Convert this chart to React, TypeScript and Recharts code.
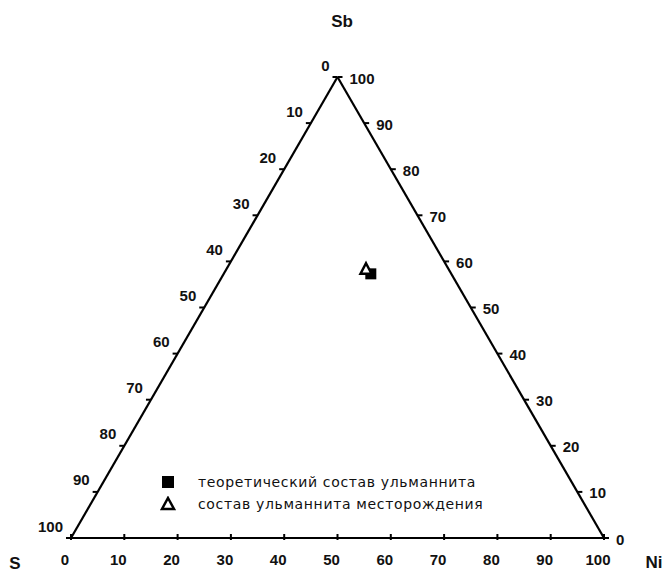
import { Legend, ReferenceLine, Scatter, ScatterChart, XAxis, YAxis } from 'recharts';

// ternary: Ni along the bottom, Sb at the apex, S at the lower left (wt. %)
const H = Math.sqrt(3) / 2;

const tickValues = [0, 10, 20, 30, 40, 50, 60, 70, 80, 90, 100];
const axisTitles = { top: 'Sb', left: 'S', right: 'Ni' };

// theoretical NiSbS and the measured deposit composition
const theoretical = [{ ni: 27.6, sb: 57.3, s: 15.1 }];
const deposit = [{ ni: 26.2, sb: 58.3, s: 15.5 }];

const legendItems = [
  { name: 'теоретический состав ульманнита', marker: 'square' },
  { name: 'состав ульманнита месторождения', marker: 'triangle' },
];

const toXY = (ni: number, sb: number) => ({ x: ni + sb / 2, y: sb * H });

const bottomTicks = tickValues.map((v) => ({ ...toXY(v, 0), label: String(v) }));
// left edge: S from 0 at the apex to 100 at the S corner
const leftTicks = tickValues.map((v) => ({ ...toXY(0, 100 - v), label: String(v) }));
// right edge: Sb from 0 at the Ni corner to 100 at the apex
const rightTicks = tickValues.map((v) => ({ ...toXY(100 - v, v), label: String(v) }));

const theoreticalPts = theoretical.map((d) => toXY(d.ni, d.sb));
const depositPts = deposit.map((d) => toXY(d.ni, d.sb));

const labelStyle = { fontSize: 15, fontWeight: 700, fill: '#111' };

const BottomTick = (props: any) => {
  const { cx, cy, payload } = props;
  return (
    <g>
      <line x1={cx} y1={cy - 4} x2={cx} y2={cy + 2} stroke="#000" strokeWidth={2} />
      <text x={cx - 6} y={cy + 21} textAnchor="middle" dominantBaseline="central" {...labelStyle}>
        {payload.label}
      </text>
    </g>
  );
};

const LeftTick = (props: any) => {
  const { cx, cy, payload } = props;
  return (
    <g>
      <line x1={cx - 5} y1={cy} x2={cx} y2={cy} stroke="#000" strokeWidth={2} />
      <text x={cx - 8} y={cy - 12} textAnchor="end" dominantBaseline="central" {...labelStyle}>
        {payload.label}
      </text>
    </g>
  );
};

const RightTick = (props: any) => {
  const { cx, cy, payload } = props;
  return (
    <g>
      <line x1={cx} y1={cy} x2={cx + 5} y2={cy} stroke="#000" strokeWidth={2} />
      <text x={cx + 12} y={cy + 1} textAnchor="start" dominantBaseline="central" {...labelStyle}>
        {payload.label}
      </text>
    </g>
  );
};

const SquareMark = (props: any) => {
  const { cx, cy } = props;
  return <rect x={cx - 5.5} y={cy - 5.5} width={11} height={11} fill="#000" />;
};

const TriangleMark = (props: any) => {
  const { cx, cy } = props;
  return (
    <polygon
      points={`${cx},${cy - 6} ${cx + 5.5},${cy + 4.5} ${cx - 5.5},${cy + 4.5}`}
      fill="#fff"
      stroke="#000"
      strokeWidth={2.5}
      strokeLinejoin="miter"
    />
  );
};

const LegendBox = () => (
  <div style={{ fontFamily: '"DejaVu Sans", sans-serif', fontSize: 14, color: '#111' }}>
    {legendItems.map((item) => (
      <div key={item.name} style={{ display: 'flex', alignItems: 'center', height: 22 }}>
        <svg width={16} height={16} style={{ marginRight: 22 }}>
          {item.marker === 'square' ? (
            <rect x={2} y={2} width={12} height={12} fill="#000" />
          ) : (
            <polygon points="8,2 14,13 2,13" fill="#fff" stroke="#000" strokeWidth={2.5} />
          )}
        </svg>
        <span style={{ letterSpacing: 0.65, whiteSpace: 'nowrap' }}>{item.name}</span>
      </div>
    ))}
  </div>
);

const TitleText = ({ x, y, text }: { x: number; y: number; text: string }) => (
  <div
    style={{
      position: 'absolute',
      left: x,
      top: y,
      transform: 'translate(-50%, -50%)',
      fontFamily: '"Liberation Sans", Arial, sans-serif',
      fontWeight: 700,
      fontSize: 17,
      color: '#111',
    }}
  >
    {text}
  </div>
);

export default function App() {
  return (
    <div style={{ position: 'absolute', left: 0, top: 0, width: 668, height: 572, background: '#fff' }}>
      <ScatterChart
        width={668}
        height={572}
        margin={{ top: 77, right: 64, bottom: 34, left: 71 }}
        style={{ fontFamily: '"Liberation Sans", Arial, sans-serif' }}
      >
        <XAxis type="number" dataKey="x" domain={[0, 100]} hide />
        <YAxis type="number" dataKey="y" domain={[0, 100 * H]} hide />
        <ReferenceLine segment={[{ x: 0, y: 0 }, { x: 100, y: 0 }]} stroke="#000" strokeWidth={2.2} />
        <ReferenceLine segment={[{ x: 0, y: 0 }, { x: 50, y: 100 * H }]} stroke="#000" strokeWidth={2.2} />
        <ReferenceLine segment={[{ x: 100, y: 0 }, { x: 50, y: 100 * H }]} stroke="#000" strokeWidth={2.2} />
        <Scatter data={bottomTicks} shape={BottomTick} isAnimationActive={false} legendType="none" />
        <Scatter data={leftTicks} shape={LeftTick} isAnimationActive={false} legendType="none" />
        <Scatter data={rightTicks} shape={RightTick} isAnimationActive={false} legendType="none" />
        <Scatter name={legendItems[0].name} data={theoreticalPts} shape={SquareMark} isAnimationActive={false} />
        <Scatter name={legendItems[1].name} data={depositPts} shape={TriangleMark} isAnimationActive={false} />
        <Legend
          layout="horizontal"
          verticalAlign="middle"
          align="center"
          content={LegendBox}
          wrapperStyle={{ left: 160, top: 471, width: 360 }}
        />
      </ScatterChart>
      <TitleText x={342} y={22} text={axisTitles.top} />
      <TitleText x={15} y={564} text={axisTitles.left} />
      <TitleText x={654} y={563} text={axisTitles.right} />
    </div>
  );
}
